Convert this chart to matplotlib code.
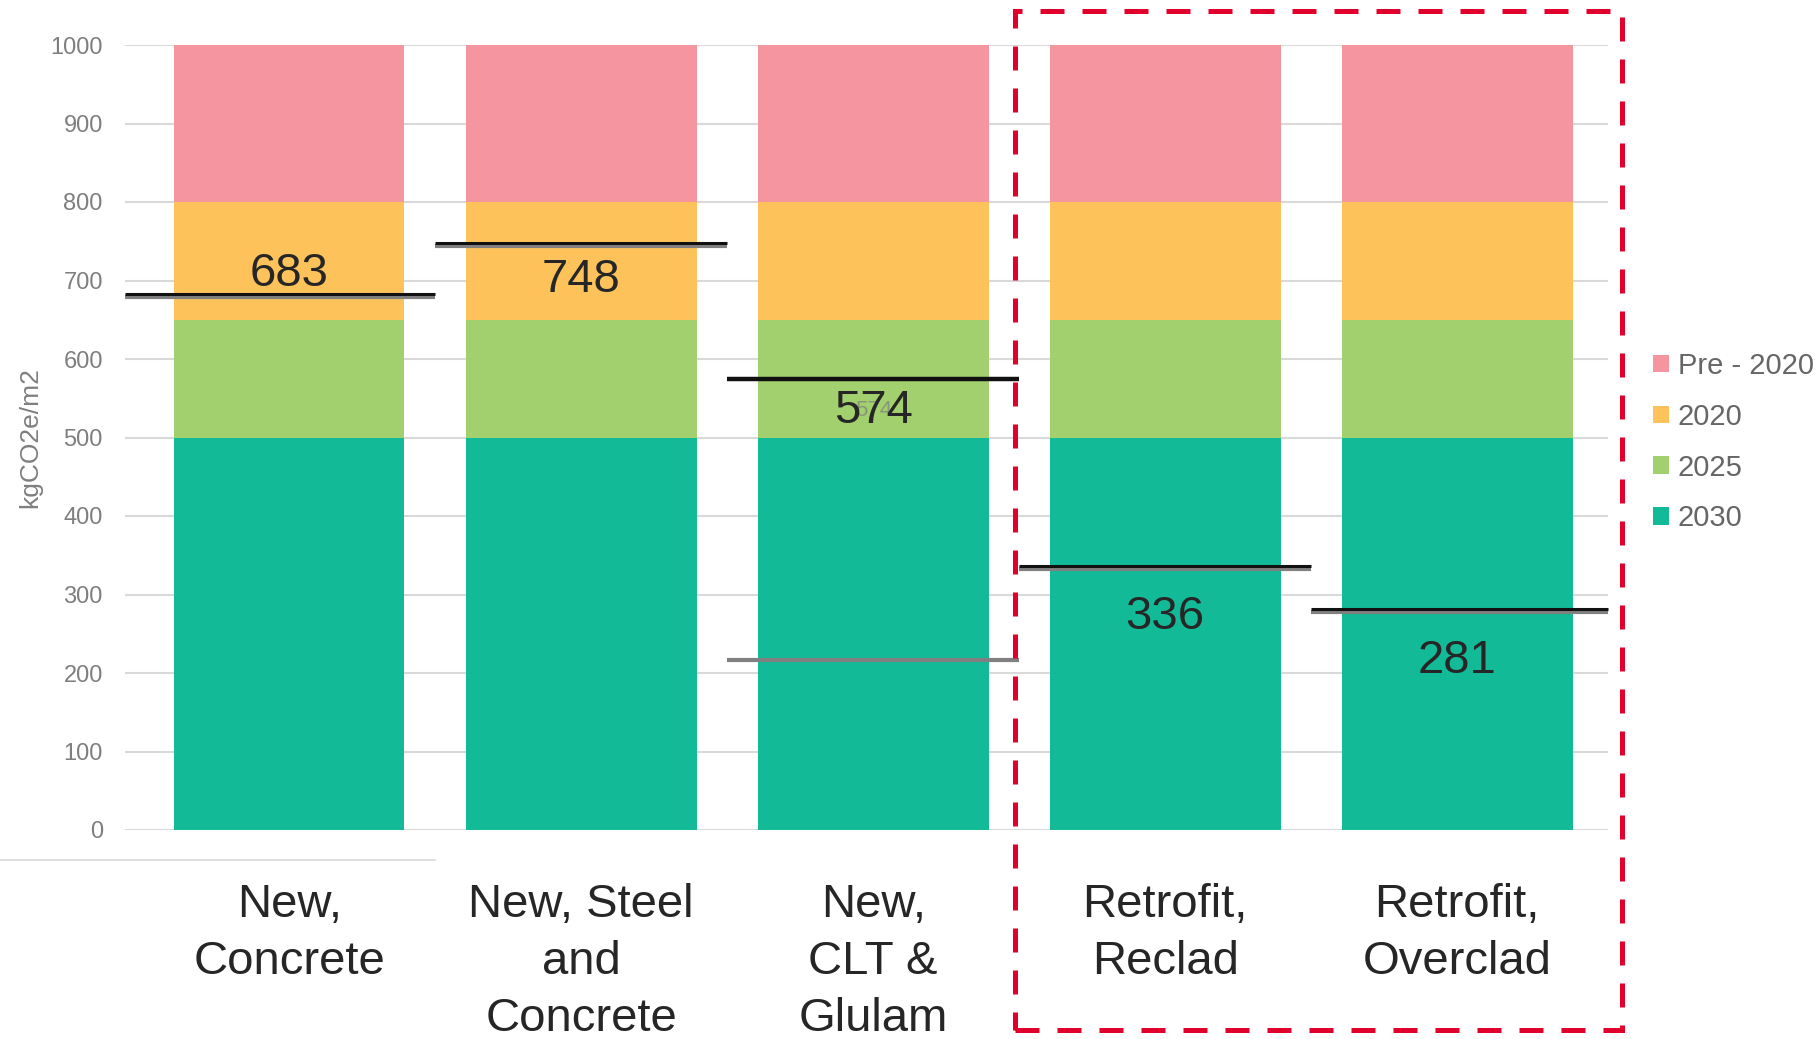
import matplotlib
matplotlib.use("Agg")
import matplotlib.pyplot as plt
from matplotlib.patches import Patch, Rectangle
from matplotlib.lines import Line2D
from matplotlib.transforms import offset_copy

plt.rcParams['font.family'] = ['Liberation Sans', 'DejaVu Sans']

# ---- data ----
categories = ["New,\nConcrete", "New, Steel\nand\nConcrete", "New,\nCLT &\nGlulam",
              "Retrofit,\nReclad", "Retrofit,\nOverclad"]
series_names = ["2030", "2025", "2020", "Pre - 2020"]
band_2030 = [500, 500, 500, 500, 500]
band_2025 = [150, 150, 150, 150, 150]
band_2020 = [150, 150, 150, 150, 150]
band_pre2020 = [200, 200, 200, 200, 200]
totals = [683, 748, 574, 336, 281]
clt_secondary = 216
y_ticks = [0, 100, 200, 300, 400, 500, 600, 700, 800, 900, 1000]

colors = {"2030": "#13BA98", "2025": "#A3D06E", "2020": "#FDC35A", "Pre - 2020": "#F4959F"}

W, H = 1817, 1039
fig = plt.figure(figsize=(W / 100, H / 100), dpi=100)
ax = fig.add_axes([125 / W, (H - 830) / H, (1608 - 125) / W, (830 - 45) / H])

x = list(range(len(categories)))
xmin, xmax = -0.562, 4.516
bar_w = 0.79

bottom = [0] * len(x)
for name, vals in zip(series_names, [band_2030, band_2025, band_2020, band_pre2020]):
    ax.bar(x, vals, bottom=bottom, width=bar_w, color=colors[name], zorder=2, linewidth=0)
    bottom = [b + v for b, v in zip(bottom, vals)]

ax.set_xlim(xmin, xmax)
ax.set_ylim(0, 1000)
ax.set_yticks(y_ticks)
ax.set_yticklabels([str(t) for t in y_ticks], fontsize=17, color="#7F7F7F")
ax.tick_params(axis="y", length=0, pad=16)
ax.yaxis.grid(True, color="#D9D9D9", linewidth=1.5, zorder=0)
ax.set_axisbelow(True)
for s in ax.spines.values():
    s.set_visible(False)

ax.set_xticks(x)
ax.set_xticklabels(categories, fontsize=34, color="#262626", linespacing=1.38)
ax.tick_params(axis="x", length=0, pad=38)

ax.set_ylabel("kgCO2e/m2", fontsize=19, color="#7F7F7F", labelpad=6)

# target lines with a grey shadow underneath
shadow = offset_copy(ax.transData, fig=fig, x=0, y=-3, units="dots")
for i, t in enumerate(totals):
    x0 = xmin if i == 0 else i - 0.5
    x1 = xmax if i == len(totals) - 1 else i + 0.5
    if i != 2:
        ax.plot([x0, x1], [t, t], color="#808080", lw=3.0, transform=shadow,
                solid_capstyle="butt", zorder=4, clip_on=False)
        ax.plot([x0, x1], [t, t], color="#111111", lw=2.2, solid_capstyle="butt",
                zorder=5, clip_on=False)
    else:
        ax.plot([x0, x1], [t, t], color="#111111", lw=3.2, solid_capstyle="butt",
                zorder=5, clip_on=False)
ax.plot([1.5, 2.5], [clt_secondary, clt_secondary], color="#808080", lw=3.0,
        solid_capstyle="butt", zorder=5)

# value labels (above the line for the first bar, below it for the others)
label_offsets_px = [20, -37, -32, -51, -52]
for i, (t, off) in enumerate(zip(totals, label_offsets_px)):
    tr = offset_copy(ax.transData, fig=fig, x=0, y=off, units="dots")
    ax.text(i, t, str(t), transform=tr, ha="center", va="center", fontsize=34,
            color="#262626", zorder=7)
tr = offset_copy(ax.transData, fig=fig, x=0, y=-31, units="dots")
ax.text(2, totals[2], str(totals[2]), transform=tr, ha="center", va="center",
        fontsize=16, color="#7F7F7F", alpha=0.7, zorder=6)

# legend
handles = [Patch(facecolor=colors[n], edgecolor="none") for n in reversed(series_names)]
leg = fig.legend(handles, list(reversed(series_names)), loc="upper left",
                 bbox_to_anchor=(1653 / W, 1 - 352 / H), frameon=False, fontsize=21,
                 handlelength=0.55, handleheight=0.55, handletextpad=0.3,
                 labelspacing=0.78, borderpad=0, borderaxespad=0)
for txt in leg.get_texts():
    txt.set_color("#666666")

# dashed highlight around the retrofit options
rect = Rectangle((1015 / W, 1 - 1030 / H), (1622 - 1015) / W, (1030 - 11) / H,
                 transform=fig.transFigure, fill=False, edgecolor="#E0002B",
                 linewidth=3.6, linestyle=(0, (4.8, 3.6)), zorder=10)
fig.add_artist(rect)

# baseline under the first panel
fig.add_artist(Line2D([0, 435 / W], [1 - 860 / H, 1 - 860 / H], color="#D9D9D9", lw=1.2))

fig.savefig("out.png", dpi=100, facecolor="white")
